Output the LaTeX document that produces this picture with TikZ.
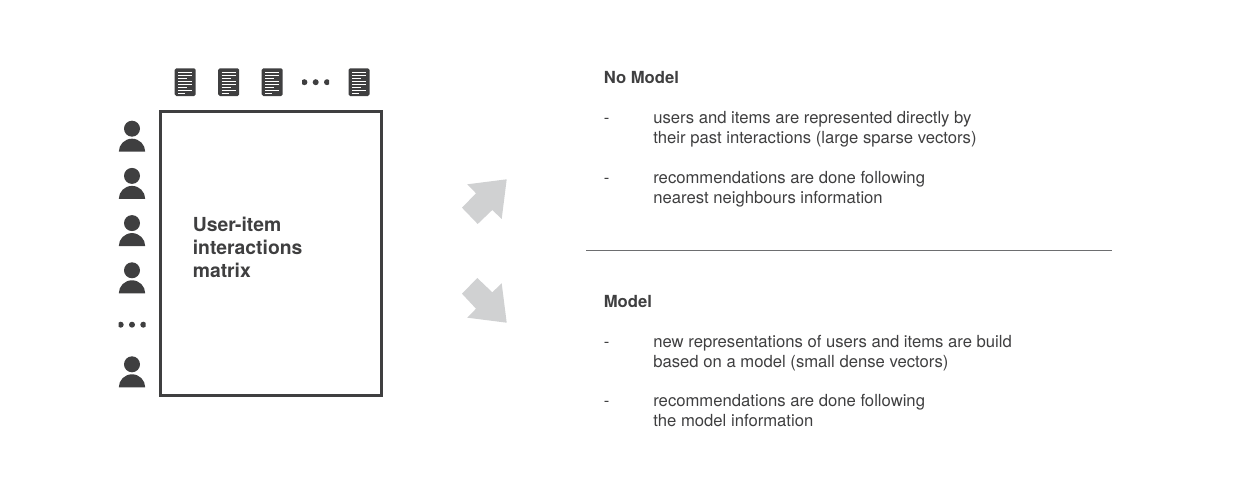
\documentclass[tikz,border=0pt]{standalone}
\usepackage{fontspec}
\setmainfont{TeX Gyre Heros}
\definecolor{darkgrey}{HTML}{3F3F40}
\definecolor{arrowgrey}{HTML}{D0D1D2}
\definecolor{rulegrey}{HTML}{6D6E70}

\begin{document}
\begin{tikzpicture}[x = 0.6pt, y = -0.6pt, % one unit is one pixel
                node distance = 26.1pt % distance between the documents
            ]

            \tikzstyle{docicon}=[rectangle, rounded corners = 1pt, fill = darkgrey,
            minimum width = 12.6pt, minimum height = 16.7pt, inner sep = 0pt,
            path picture = {
                \begin{scope}[shift = {(path picture bounding box.center)},
                    white, line width = 0.6pt]
                    \foreach \ypos/\xend in {-10/7, -7/7, -4/2, -1/7, 2/7, 5/2, 8/7, 11/0}
                        \draw (-7, \ypos) -- (\xend, \ypos);
                \end{scope}
            }]
            \tikzstyle{usericon}=[rectangle, minimum width = 16.2pt,
            minimum height = 18.6pt, inner sep = 0pt,
            path picture = {
                \begin{scope}[shift = {(path picture bounding box.center)}]
                    \fill[darkgrey] (0, -7.5) circle (8);
                    \fill[darkgrey] (-13.2, 15.5) arc (180:360:13.2 and 13) -- cycle;
                \end{scope}
            }]
            \tikzstyle{dotsicon}=[rectangle, minimum width = 16.2pt,
            minimum height = 4pt, inner sep = 0pt,
            path picture = {
                \begin{scope}[shift = {(path picture bounding box.center)}]
                    \foreach \xpos in {-11.3, 0, 11.3}
                        \fill[darkgrey] (\xpos, 0) circle (3);
                \end{scope}
            }]
            \tikzstyle{infotext}=[anchor = north west, inner sep = 0pt, align = left,
            text = darkgrey, font = \fontsize{10pt}{12pt}\selectfont]
            \tikzstyle{shorttext}=[infotext, text height = 7.4pt]
            \tikzstyle{bigarrow}=[fill = arrowgrey]

            \useasboundingbox (0, 0) rectangle (1250, 487);

            % documents along the top
            \node[docicon] (doc1) at (185.2, 82.2) {};
            \node[docicon] (doc2) [right of=doc1] {};
            \node[docicon] (doc3) [right of=doc2] {};
            \node[dotsicon] (docdots) [right of=doc3] {};
            \node[docicon] (doc4) at (359, 82.2) {};

            % users down the side
            \node[usericon] (user1) at (132, 136.2) {};
            \node[usericon] (user2) at (132, 183.4) {};
            \node[usericon] (user3) at (132, 230.6) {};
            \node[usericon] (user4) at (132, 277.8) {};
            \node[dotsicon] (userdots) at (132, 324.7) {};
            \node[usericon] (user5) at (132, 371.8) {};

            % the matrix
            \node[draw = darkgrey, line width = 1.6pt, rectangle, inner sep = 0pt,
            minimum width = 132.5pt, minimum height = 170.6pt] (matrix) at (271.2, 253.4) {};
            \node[anchor = north west, inner sep = 0pt, align = left, text = darkgrey,
            font = \fontsize{11.6pt}{13.8pt}\selectfont\bfseries] (matrixlabel) at (192.5, 217)
            {User-item\\interactions\\matrix};

            % the two arrows
            \fill[bigarrow] (506.7, 179.3) -- (467.3, 184.3) -- (476, 193.3) -- (462, 207.7)
            -- (477.7, 224) -- (492.3, 210) -- (501.7, 219) -- cycle;
            \fill[bigarrow] (506.7, 322.7) -- (467.3, 317.7) -- (476, 308.7) -- (462, 293.7)
            -- (477.3, 278) -- (492.3, 292.3) -- (501.7, 283.3) -- cycle;

            % no model text
            \node[shorttext] (nomodel) at (603.5, 71) {\bfseries No Model};
            \node[shorttext] (dash1) at (603.5, 111) {-};
            \node[infotext] (nomodel1) at (653, 111)
            {users and items are represented directly by\\their past interactions (large sparse vectors)};
            \node[shorttext] (dash2) at (603.5, 171) {-};
            \node[infotext] (nomodel2) at (653, 171)
            {recommendations are done following\\nearest neighbours information};

            % divider
            \coordinate (ruleleft) at (586, 250.5);
            \coordinate (ruleright) at (1112, 250.5);
            \draw[rulegrey, line width = 0.5pt] (ruleleft) -- (ruleright);

            % model text
            \node[shorttext] (model) at (603.5, 295) {\bfseries Model};
            \node[shorttext] (dash3) at (603.5, 335) {-};
            \node[infotext] (model1) at (653, 335)
            {new representations of users and items are build\\based on a model (small dense vectors)};
            \node[shorttext] (dash4) at (603.5, 394) {-};
            \node[infotext] (model2) at (653, 394)
            {recommendations are done following\\the model information};
        \end{tikzpicture}
\end{document}
